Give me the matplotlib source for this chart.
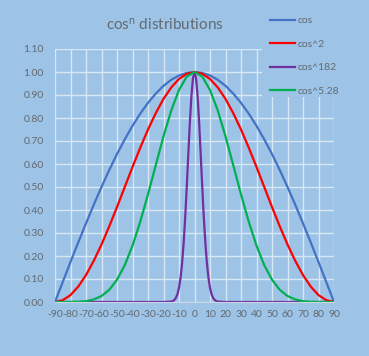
import matplotlib

matplotlib.use("Agg")
import matplotlib.pyplot as plt
from matplotlib.patches import Rectangle

# ---------------------------------------------------------------------------
# Data
# ---------------------------------------------------------------------------
angles = [-90, -85, -80, -75, -70, -65, -60, -55, -50, -45, -40, -35, -30, -25, -20,
          -15, -10, -5, 0, 5, 10, 15, 20, 25, 30, 35, 40, 45, 50, 55, 60, 65, 70, 75,
          80, 85, 90]

# one half (0 -> 90 degrees); the curves are symmetric about 0
cos_half = [1.000, 0.996, 0.985, 0.966, 0.940, 0.906, 0.866, 0.819, 0.766, 0.707,
            0.643, 0.574, 0.500, 0.423, 0.342, 0.259, 0.174, 0.087, 0.000]
cos2_half = [1.000, 0.992, 0.970, 0.933, 0.883, 0.821, 0.750, 0.671, 0.587, 0.500,
             0.413, 0.329, 0.250, 0.179, 0.117, 0.067, 0.030, 0.008, 0.000]
cos528_half = [1.000, 0.980, 0.922, 0.833, 0.720, 0.595, 0.468, 0.349, 0.245, 0.160,
               0.097, 0.053, 0.026, 0.011, 0.0035, 0.0008, 0.0001, 0.000, 0.000]

cos_vals = cos_half[::-1] + cos_half[1:]
cos2_vals = cos2_half[::-1] + cos2_half[1:]
cos528_vals = cos528_half[::-1] + cos528_half[1:]

narrow_angles = [-90, -30, -20, -15, -14, -13, -12, -11, -10, -9, -8, -7, -6, -5, -4,
                 -3, -2, -1, 0, 1, 2, 3, 4, 5, 6, 7, 8, 9, 10, 11, 12, 13, 14, 15, 20,
                 30, 90]
cos182_vals = [0.00, 0.00, 0.00, 0.002, 0.004, 0.009, 0.018, 0.034, 0.062, 0.105,
               0.169, 0.257, 0.368, 0.50, 0.642, 0.779, 0.895, 0.973, 1.00, 0.973,
               0.895, 0.779, 0.642, 0.50, 0.368, 0.257, 0.169, 0.105, 0.062, 0.034,
               0.018, 0.009, 0.004, 0.002, 0.00, 0.00, 0.00]

series_labels = ["cos", "cos^2", "cos^182", "cos^5.28"]
x_ticks = list(range(-90, 91, 10))
y_ticks = [0.0, 0.1, 0.2, 0.3, 0.4, 0.5, 0.6, 0.7, 0.8, 0.9, 1.0, 1.1]

# ---------------------------------------------------------------------------
# Style
# ---------------------------------------------------------------------------
BG = "#9DC3E6"
GRID = "#D8E7F4"
TEXT = "#626A72"
COLORS = ["#4472C4", "#FF0000", "#7030A0", "#00B050"]

plt.rcParams["font.family"] = ["Lato", "DejaVu Sans"]
plt.rcParams["mathtext.default"] = "regular"

W, H = 369, 356
fig = plt.figure(figsize=(W / 100, H / 100), dpi=100, facecolor=BG)

# plot area in pixels: x -90 -> 55, 90 -> 334 ; y 1.10 -> 49, 0.00 -> 302
ax = fig.add_axes([55 / W, (H - 302) / H, (334 - 55) / W, (302 - 49) / H])
ax.set_facecolor(BG)

ax.plot(angles, cos_vals, color=COLORS[0], lw=1.6, label=series_labels[0])
ax.plot(angles, cos2_vals, color=COLORS[1], lw=1.6, label=series_labels[1])
ax.plot(narrow_angles, cos182_vals, color=COLORS[2], lw=1.6, label=series_labels[2])
ax.plot(angles, cos528_vals, color=COLORS[3], lw=1.6, label=series_labels[3])

ax.set_xlim(-90, 90)
ax.set_ylim(0, 1.1)
ax.set_xticks(x_ticks)
ax.set_xticklabels([str(t) for t in x_ticks])
ax.set_yticks(y_ticks)
ax.set_yticklabels([f"{t:.2f}" for t in y_ticks])
ax.tick_params(axis="both", length=0, labelsize=7.5, labelcolor=TEXT)
ax.tick_params(axis="x", pad=6)
ax.tick_params(axis="y", pad=8)
ax.grid(True, color=GRID, lw=1.0)
ax.set_axisbelow(True)
for side in ["top", "right", "left"]:
    ax.spines[side].set_visible(False)
ax.spines["bottom"].set_color("#C9D6E3")

# legend area hides the grid in the top-right corner
fig.patches.append(Rectangle((262 / W, 1 - 97 / H), 1, 97 / H, transform=fig.transFigure,
                             facecolor=BG, edgecolor="none", zorder=1))

fig.text(165 / W, 1 - 25 / H, "cos$^{n}$ distributions", ha="center", va="center",
         fontsize=11, color=TEXT)

handles, labels = ax.get_legend_handles_labels()
leg = fig.legend(handles, labels, loc="upper left", bbox_to_anchor=(266 / W, 1 - 12 / H),
                 frameon=False, fontsize=7.5, labelcolor=TEXT, handlelength=2.4,
                 handletextpad=0.2, labelspacing=1.35, borderaxespad=0)
for line in leg.get_lines():
    line.set_linewidth(1.6)

fig.savefig("out.png", dpi=100, facecolor=BG)
